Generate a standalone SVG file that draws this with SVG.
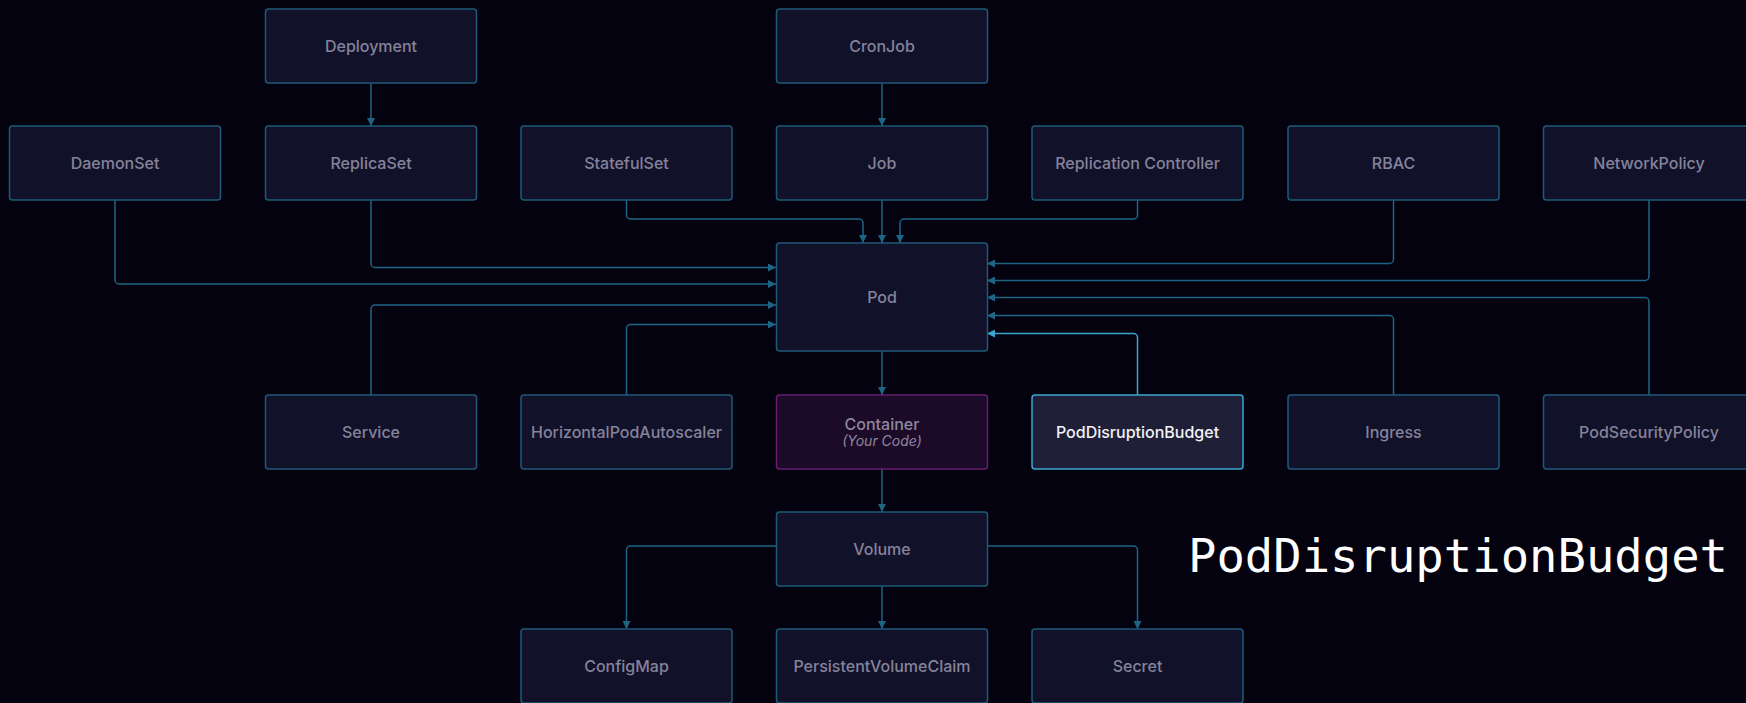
<svg xmlns="http://www.w3.org/2000/svg" width="1746" height="703" viewBox="0 0 1746 703">
<defs>
<style>
.n rect{fill:#12112a;stroke:#1d5a78;stroke-width:1.5}
.n text{font-family:Inter,"Noto Sans","Liberation Sans",sans-serif;font-size:16px;font-weight:500;fill:#85839a;text-anchor:middle}
.c path{fill:none;stroke:#1d6584;stroke-width:1.5}
.c path.hl{stroke:#3aa6cf}
#container rect{fill:#1b0a28;stroke:#6a1d6c}
#container text{fill:#8f879f}
#container text.sub{font-size:14px;font-style:italic;font-weight:400}
#pdb rect{fill:#201f38;stroke:#3aa6cf}
#pdb text{fill:#f2f2f5}
.big{font-family:"DejaVu Sans Mono","Liberation Mono",monospace;font-size:47px;fill:#ffffff}
</style>
<marker id="a" viewBox="0 0 8 8" refX="8" refY="4" markerWidth="8" markerHeight="8" markerUnits="userSpaceOnUse" orient="auto"><path d="M0,0 L8,4 L0,8 z" fill="#1d6584"/></marker>
<marker id="ah" viewBox="0 0 8 8" refX="8" refY="4" markerWidth="8" markerHeight="8" markerUnits="userSpaceOnUse" orient="auto"><path d="M0,0 L8,4 L0,8 z" fill="#3aa6cf"/></marker>
</defs>
<rect x="0" y="0" width="1746" height="703" fill="#04020f"/>

<g class="c" id="connectors">
<path d="M371,83 V126" marker-end="url(#a)"/>
<path d="M882,83 V126" marker-end="url(#a)"/>
<path d="M626.5,200 V215 a4,4 0 0 0 4,4 H859 a4,4 0 0 1 4,4 V243" marker-end="url(#a)"/>
<path d="M882,200 V243" marker-end="url(#a)"/>
<path d="M1137.5,200 V215 a4,4 0 0 1 -4,4 H904 a4,4 0 0 0 -4,4 V243" marker-end="url(#a)"/>
<path d="M371,200 V263.5 a4,4 0 0 0 4,4 H776" marker-end="url(#a)"/>
<path d="M115,200 V280 a4,4 0 0 0 4,4 H776" marker-end="url(#a)"/>
<path d="M371,395 V309 a4,4 0 0 1 4,-4 H776" marker-end="url(#a)"/>
<path d="M626.5,395 V328.5 a4,4 0 0 1 4,-4 H776" marker-end="url(#a)"/>
<path d="M1393.5,200 V259.5 a4,4 0 0 1 -4,4 H987" marker-end="url(#a)"/>
<path d="M1649,200 V276.5 a4,4 0 0 1 -4,4 H987" marker-end="url(#a)"/>
<path d="M1649,395 V301.5 a4,4 0 0 0 -4,-4 H987" marker-end="url(#a)"/>
<path d="M1393.5,395 V319.5 a4,4 0 0 0 -4,-4 H987" marker-end="url(#a)"/>
<path class="hl" d="M1137.5,395 V337.5 a4,4 0 0 0 -4,-4 H987" marker-end="url(#ah)"/>
<path d="M882,351 V395" marker-end="url(#a)"/>
<path d="M882,469 V512" marker-end="url(#a)"/>
<path d="M776,546 H630.5 a4,4 0 0 0 -4,4 V629" marker-end="url(#a)"/>
<path d="M882,586 V629" marker-end="url(#a)"/>
<path d="M987,546 H1133.5 a4,4 0 0 1 4,4 V629" marker-end="url(#a)"/>
</g>

<g class="n" id="deployment"><rect x="265.5" y="9" width="211" height="74" rx="3"/><text x="371" y="51.8">Deployment</text></g>
<g class="n" id="cronjob"><rect x="776.5" y="9" width="211" height="74" rx="3"/><text x="882" y="51.8">CronJob</text></g>

<g class="n" id="daemonset"><rect x="9.5" y="126" width="211" height="74" rx="3"/><text x="115" y="168.8">DaemonSet</text></g>
<g class="n" id="replicaset"><rect x="265.5" y="126" width="211" height="74" rx="3"/><text x="371" y="168.8">ReplicaSet</text></g>
<g class="n" id="statefulset"><rect x="521" y="126" width="211" height="74" rx="3"/><text x="626.5" y="168.8">StatefulSet</text></g>
<g class="n" id="job"><rect x="776.5" y="126" width="211" height="74" rx="3"/><text x="882" y="168.8">Job</text></g>
<g class="n" id="replication-controller"><rect x="1032" y="126" width="211" height="74" rx="3"/><text x="1137.5" y="168.8">Replication Controller</text></g>
<g class="n" id="rbac"><rect x="1288" y="126" width="211" height="74" rx="3"/><text x="1393.5" y="168.8">RBAC</text></g>
<g class="n" id="networkpolicy"><rect x="1543.5" y="126" width="211" height="74" rx="3"/><text x="1649" y="168.8">NetworkPolicy</text></g>

<g class="n" id="pod"><rect x="776.5" y="243" width="211" height="108" rx="3"/><text x="882" y="302.8">Pod</text></g>

<g class="n" id="service"><rect x="265.5" y="395" width="211" height="74" rx="3"/><text x="371" y="437.8">Service</text></g>
<g class="n" id="hpa"><rect x="521" y="395" width="211" height="74" rx="3"/><text x="626.5" y="437.8">HorizontalPodAutoscaler</text></g>
<g class="n" id="container"><rect x="776.5" y="395" width="211" height="74" rx="3"/><text x="882" y="430">Container</text><text class="sub" x="882" y="446">(Your Code)</text></g>
<g class="n" id="pdb"><rect x="1032" y="395" width="211" height="74" rx="3"/><text x="1137.5" y="437.8">PodDisruptionBudget</text></g>
<g class="n" id="ingress"><rect x="1288" y="395" width="211" height="74" rx="3"/><text x="1393.5" y="437.8">Ingress</text></g>
<g class="n" id="podsecuritypolicy"><rect x="1543.5" y="395" width="211" height="74" rx="3"/><text x="1649" y="437.8">PodSecurityPolicy</text></g>

<g class="n" id="volume"><rect x="776.5" y="512" width="211" height="74" rx="3"/><text x="882" y="554.8">Volume</text></g>

<g class="n" id="configmap"><rect x="521" y="629" width="211" height="74" rx="3"/><text x="626.5" y="671.8">ConfigMap</text></g>
<g class="n" id="pvc"><rect x="776.5" y="629" width="211" height="74" rx="3"/><text x="882" y="671.8">PersistentVolumeClaim</text></g>
<g class="n" id="secret"><rect x="1032" y="629" width="211" height="74" rx="3"/><text x="1137.5" y="671.8">Secret</text></g>

<text class="big" x="1188" y="572" textLength="540" lengthAdjust="spacingAndGlyphs">PodDisruptionBudget</text>
</svg>
